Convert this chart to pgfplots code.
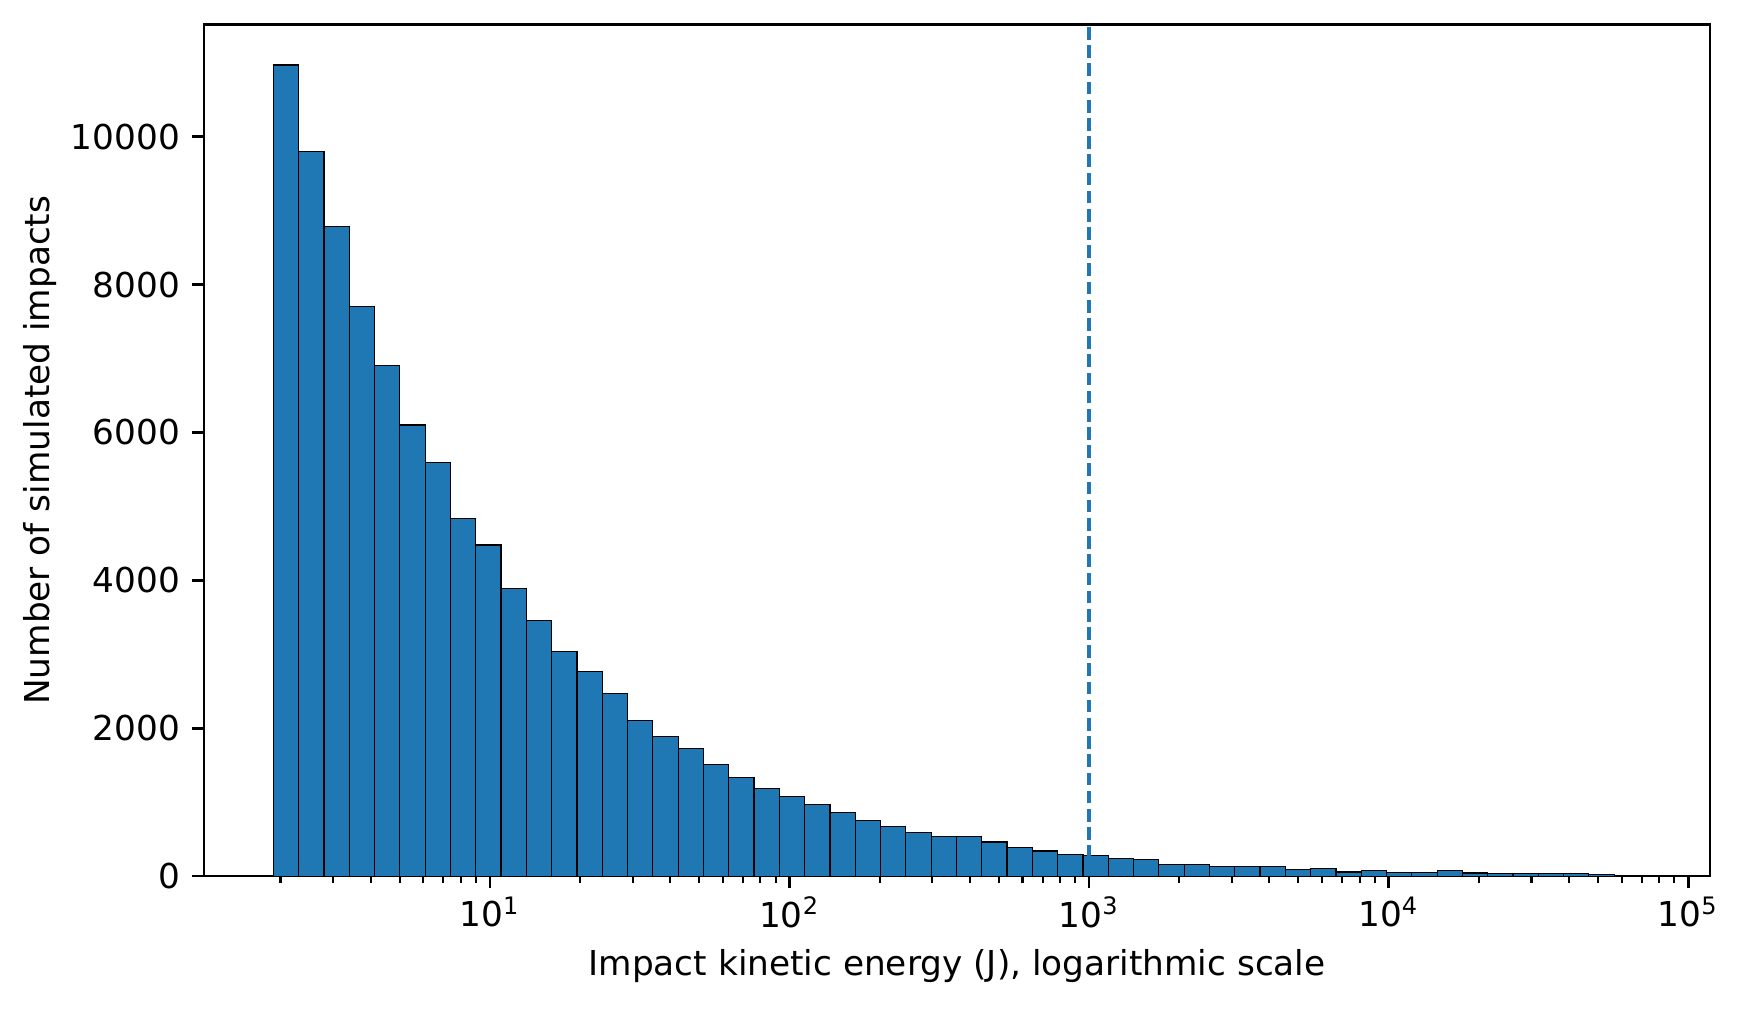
\documentclass[border=0pt]{standalone}
\usepackage{pgfplots}
\usepackage{pgfplotstable}
\pgfplotsset{compat=1.18}
\usepackage{fontspec}
\setmainfont{DejaVu Sans}
\definecolor{tabblue}{RGB}{31,119,180}
% bin edges given as log10(energy in J); y = count of the bin starting at that edge
\pgfplotstableread{
x y
0.2773 10969
0.3617 9805
0.4462 8790
0.5306 7706
0.6151 6903
0.6995 6100
0.7840 5599
0.8684 4836
0.9529 4479
1.0373 3893
1.1218 3460
1.2062 3040
1.2907 2764
1.3751 2466
1.4596 2110
1.5440 1884
1.6285 1721
1.7129 1505
1.7974 1329
1.8818 1180
1.9663 1076
2.0507 967
2.1352 861
2.2196 757
2.3041 668
2.3885 592
2.4730 532
2.5574 532
2.6418 460
2.7263 383
2.8107 339
2.8952 289
2.9796 280
3.0641 235
3.1485 226
3.2330 160
3.3174 160
3.4019 128
3.4863 128
3.5708 128
3.6552 88
3.7397 106
3.8241 56
3.9086 74
3.9930 46
4.0775 46
4.1619 72
4.2464 42
4.3308 35
4.4153 35
4.4997 35
4.5842 35
4.6686 24
4.7531 9
4.8375 0
}\hist
\begin{document}
\begin{tikzpicture}
\useasboundingbox (0,0) rectangle (508.7pt,295pt);
\begin{axis}[
  at={(59.5pt,39.6pt)}, anchor=south west,
  scale only axis, width=439pt, height=248.3pt,
  xmin=0.046, xmax=5.073, ymin=0, ymax=11520,
  xtick={1,2,3,4,5},
  xticklabels={10\textsuperscript{1},10\textsuperscript{2},10\textsuperscript{3},10\textsuperscript{4},10\textsuperscript{5}},
  minor xtick={0.301,0.477,0.602,0.699,0.778,0.845,0.903,0.954,
               1.301,1.477,1.602,1.699,1.778,1.845,1.903,1.954,
               2.301,2.477,2.602,2.699,2.778,2.845,2.903,2.954,
               3.301,3.477,3.602,3.699,3.778,3.845,3.903,3.954,
               4.301,4.477,4.602,4.699,4.778,4.845,4.903,4.954},
  ytick={0,2000,4000,6000,8000,10000},
  scaled y ticks=false,
  /pgf/number format/1000 sep={},
  /pgf/number format/assume math mode=true,
  tick pos=left, tick align=outside,
  major tick length=3.5pt, minor tick length=2pt,
  every major tick/.append style={black, line width=0.8pt},
  every minor tick/.append style={black, line width=0.6pt},
  axis line style={line width=0.8pt},
  xticklabel shift=-1pt,
  xlabel shift=-0.6pt,
  ylabel shift=-2.7pt,
  xlabel={Impact kinetic energy (J), logarithmic scale},
  ylabel={Number of simulated impacts},
  clip=true,
]
\addplot[ybar interval, fill=tabblue, draw=black, line width=0.35pt] table[x=x,y=y] {\hist};
\addplot[tabblue, line width=1pt, dash pattern=on 3.7pt off 1.6pt] coordinates {(3,0) (3,11520)};
\end{axis}
\end{tikzpicture}
\end{document}
